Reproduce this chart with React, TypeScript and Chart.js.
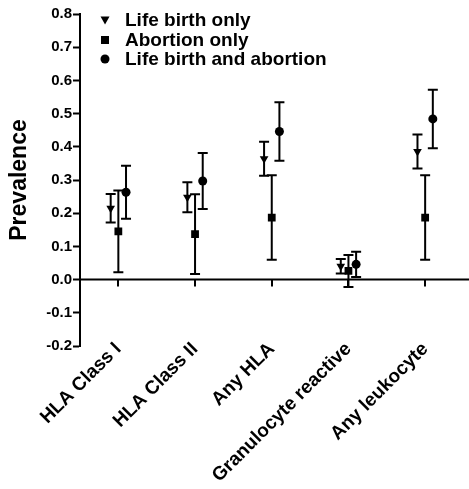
import React, { useEffect, useRef } from "react";
import { Chart, registerables } from "chart.js";

Chart.register(...registerables);

const categories = ["HLA Class I", "HLA Class II", "Any HLA", "Granulocyte reactive", "Any leukocyte"];
const seriesNames = ["Life birth only", "Abortion only", "Life birth and abortion"];

const lifeBirthMean = [0.215, 0.248, 0.364, 0.04, 0.386];
const lifeBirthErr = [0.043, 0.045, 0.051, 0.022, 0.051];
const abortionMean = [0.145, 0.137, 0.187, 0.026, 0.187];
const abortionErr = [0.123, 0.12, 0.127, 0.048, 0.127];
const bothMean = [0.263, 0.297, 0.446, 0.046, 0.484];
const bothErr = [0.08, 0.084, 0.088, 0.038, 0.088];

const yTicks = [-0.2, -0.1, 0.0, 0.1, 0.2, 0.3, 0.4, 0.5, 0.6, 0.7, 0.8];
const groupOffsets = [-0.1, 0, 0.1];

const FONT = "'Liberation Sans', Arial, sans-serif";

const meansList = [lifeBirthMean, abortionMean, bothMean];
const errsList = [lifeBirthErr, abortionErr, bothErr];
const pointStyles = ["triangle", "rect", "circle"];
const pointRotations = [180, 0, 0];
const pointRadii = [5, 5.5, 4.5];

const errorBarPlugin = {
  id: "errorBars",
  beforeDatasetsDraw(chart: any) {
    const ctx = chart.ctx;
    const x = chart.scales.x;
    const y = chart.scales.y;
    ctx.save();
    ctx.strokeStyle = "#000";
    ctx.lineWidth = 2;
    chart.data.datasets.forEach((ds: any) => {
      ds.data.forEach((p: any) => {
        const px = x.getPixelForValue(p.x);
        const top = y.getPixelForValue(p.y + p.err);
        const bot = y.getPixelForValue(p.y - p.err);
        ctx.beginPath();
        ctx.moveTo(px, top);
        ctx.lineTo(px, bot);
        ctx.moveTo(px - 5, top);
        ctx.lineTo(px + 5, top);
        ctx.moveTo(px - 5, bot);
        ctx.lineTo(px + 5, bot);
        ctx.stroke();
      });
    });
    ctx.restore();
  },
};

const zeroAxisPlugin = {
  id: "zeroAxis",
  afterDraw(chart: any) {
    const ctx = chart.ctx;
    const x = chart.scales.x;
    const y = chart.scales.y;
    const y0 = y.getPixelForValue(0);
    ctx.save();
    ctx.strokeStyle = "#000";
    ctx.lineWidth = 2;
    ctx.beginPath();
    ctx.moveTo(chart.chartArea.left, y0);
    ctx.lineTo(chart.width, y0);
    categories.forEach((_, i) => {
      const px = Math.round(x.getPixelForValue(i));
      ctx.moveTo(px, y0);
      ctx.lineTo(px, y0 + 7);
    });
    ctx.stroke();
    // category labels, rotated 45 degrees below the plot
    ctx.fillStyle = "#000";
    ctx.font = `bold 19px ${FONT}`;
    ctx.textAlign = "right";
    ctx.textBaseline = "middle";
    const by = chart.chartArea.bottom;
    categories.forEach((label, i) => {
      const px = x.getPixelForValue(i);
      ctx.save();
      ctx.translate(px, by);
      ctx.rotate(-Math.PI / 4);
      ctx.fillText(label, 0, 0);
      ctx.restore();
    });
    ctx.restore();
  },
};

const legendPlugin = {
  id: "innerLegend",
  afterDraw(chart: any) {
    const ctx = chart.ctx;
    ctx.save();
    ctx.fillStyle = "#000";
    ctx.font = `bold 19px ${FONT}`;
    ctx.textBaseline = "middle";
    const mx = 105;
    const tx = 125;
    const rows = [20, 40, 59];
    seriesNames.forEach((name, i) => {
      const cy = rows[i];
      ctx.beginPath();
      if (i === 0) {
        ctx.moveTo(mx - 4.5, cy - 3.5);
        ctx.lineTo(mx + 4.5, cy - 3.5);
        ctx.lineTo(mx, cy + 4.5);
        ctx.closePath();
      } else if (i === 1) {
        ctx.rect(mx - 4, cy - 4, 8, 8);
      } else {
        ctx.arc(mx, cy, 4.5, 0, Math.PI * 2);
      }
      ctx.fill();
      ctx.fillText(name, tx, cy + 1);
    });
    ctx.restore();
  },
};

export default function App() {
  const ref = useRef<HTMLCanvasElement | null>(null);

  useEffect(() => {
    document.body.style.margin = "0";
    if (!ref.current) return;
    const datasets = seriesNames.map((name, s) => ({
      label: name,
      data: categories.map((_, i) => ({
        x: i + groupOffsets[s],
        y: meansList[s][i],
        err: errsList[s][i],
      })),
      pointStyle: pointStyles[s],
      rotation: pointRotations[s],
      pointRadius: pointRadii[s],
      pointHoverRadius: pointRadii[s],
      backgroundColor: "#000",
      borderColor: "#000",
      borderWidth: 0,
      showLine: false,
    }));

    const chart = new Chart(ref.current, {
      type: "scatter",
      data: { datasets: datasets as any },
      plugins: [errorBarPlugin, zeroAxisPlugin, legendPlugin],
      options: {
        animation: false,
        responsive: false,
        events: [],
        layout: { padding: { top: 14, right: 0, left: 0, bottom: 0 } },
        plugins: { legend: { display: false }, tooltip: { enabled: false } },
        scales: {
          x: {
            type: "linear",
            min: -0.5,
            max: 4.5,
            afterBuildTicks: (scale: any) => {
              scale.ticks = categories.map((_, i) => ({ value: i }));
            },
            afterFit: (scale: any) => {
              scale.height = 143;
            },
            grid: { display: false, drawTicks: false },
            border: { display: false },
            ticks: { display: false },
          },
          y: {
            min: -0.2,
            max: 0.8,
            afterBuildTicks: (scale: any) => {
              scale.ticks = yTicks.map((v) => ({ value: v }));
            },
            afterFit: (scale: any) => {
              scale.width = 80;
            },
            grid: {
              drawOnChartArea: false,
              drawTicks: true,
              tickLength: 7,
              tickWidth: 2,
              tickColor: "#000",
            },
            border: { display: true, color: "#000", width: 2 },
            title: {
              display: true,
              text: "Prevalence",
              color: "#000",
              font: { family: FONT, size: 23, weight: "bold" },
              padding: { top: 6, bottom: 2 },
            },
            ticks: {
              color: "#000",
              padding: 1,
              font: { family: FONT, size: 15, weight: "bold" },
              callback: (v: any) => Number(v).toFixed(1),
            },
          },
        },
      },
    });
    return () => chart.destroy();
  }, []);

  return (
    <div style={{ width: 469, height: 489 }}>
      <canvas ref={ref} width={469} height={489} style={{ display: "block" }} />
    </div>
  );
}
